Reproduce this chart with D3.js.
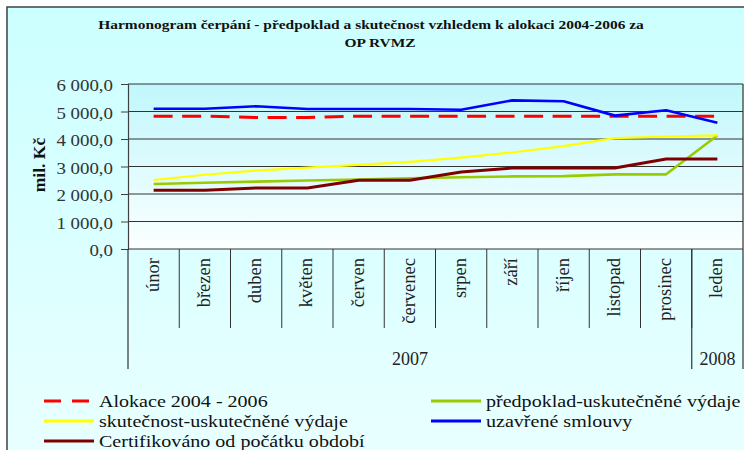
<!DOCTYPE html>
<html><head><meta charset="utf-8">
<script src="https://cdn.jsdelivr.net/npm/d3@7"></script>
<style>body{margin:0;background:#fff}svg{display:block}</style>
</head><body><svg id="c" width="744" height="450" font-family="Liberation Serif"></svg>
<script>
const months = ["únor","březen","duben","květen","červen","červenec","srpen","září","říjen","listopad","prosinec","leden"];
const years = [{label:"2007", from:0, to:10},{label:"2008", from:11, to:11}];
const yTicks = [0,1000,2000,3000,4000,5000,6000];
const alokace =      [4830,4830,4780,4780,4830,4830,4830,4830,4830,4830,4830,4830];
const predpoklad =   [2365,2410,2450,2490,2530,2570,2610,2640,2650,2715,2715,4130];
const skutecnost =   [2510,2700,2850,2960,3060,3170,3320,3510,3740,4030,4090,4130];
const smlouvy =      [5100,5100,5190,5090,5090,5090,5065,5405,5370,4850,5045,4590];
const certifikovano =[2135,2135,2220,2220,2500,2500,2800,2945,2945,2945,3270,3270];
const title = ["Harmonogram čerpání - předpoklad a skutečnost vzhledem k alokaci 2004-2006 za","OP RVMZ"];

const series = [
  {name:"Alokace 2004 - 2006", data:alokace, color:"#ff0000", width:3, dash:"19,9.5", ldash:"17,11"},
  {name:"předpoklad-uskutečněné výdaje", data:predpoklad, color:"#99cc00", width:2.6},
  {name:"skutečnost-uskutečněné výdaje", data:skutecnost, color:"#ffff00", width:2.2},
  {name:"uzavřené smlouvy", data:smlouvy, color:"#0000ff", width:2.6},
  {name:"Certifikováno od počátku období", data:certifikovano, color:"#800000", width:3}
];
const FF = "Liberation Serif";
const SX = 1.18;
const svg = d3.select("#c");
const defs = svg.append("defs");
const g1 = defs.append("linearGradient").attr("id","bg").attr("x1",0).attr("y1",0).attr("x2",0).attr("y2",1);
g1.append("stop").attr("offset","0%").attr("stop-color","#ccffff");
g1.append("stop").attr("offset","100%").attr("stop-color","#eaffff");
const g2 = defs.append("linearGradient").attr("id","pbg").attr("x1",0).attr("y1",0).attr("x2",0).attr("y2",1);
g2.append("stop").attr("offset","0%").attr("stop-color","#c0f7fc");
g2.append("stop").attr("offset","100%").attr("stop-color","#fcffff");

svg.append("rect").attr("x",7).attr("y",7).attr("width",760).attr("height",460)
  .attr("fill","url(#bg)").attr("stroke","#404040").attr("stroke-width",1.5);

const L=128, R=743, T=84, B=249;
const x = d3.scaleBand().domain(months).range([L,R]);
const y = d3.scaleLinear().domain([0,6000]).range([B,T]);
const cx = m => x(m)+x.bandwidth()/2;

svg.append("rect").attr("x",L).attr("y",T).attr("width",R-L).attr("height",B-T).attr("fill","url(#pbg)");

svg.append("g").selectAll("line").data(yTicks).join("line")
  .attr("x1",L).attr("x2",R).attr("y1",d=>y(d)).attr("y2",d=>y(d))
  .attr("stroke","#333").attr("stroke-width",1);

const loc = d3.formatLocale({decimal:",", thousands:"\u00a0", grouping:[3], currency:["",""]});
const fmt = loc.format(",.1f");
const ya = svg.append("g").attr("transform",`translate(${L},0)`)
  .call(d3.axisLeft(y).tickValues(yTicks).tickFormat(fmt).tickSize(7).tickPadding(8));
ya.attr("font-family",FF);
ya.select(".domain").attr("stroke","#404040").attr("stroke-width",1.2);
ya.selectAll(".tick line").attr("stroke","#404040");
ya.selectAll(".tick text").attr("x",0).attr("dy",6.5).attr("transform",`translate(-15,0) scale(${SX},1)`)
  .attr("font-family",FF).attr("font-size",16).attr("fill","#333");

svg.append("text").attr("transform","translate(45,165) rotate(-90)").attr("text-anchor","middle")
  .attr("font-size",17.5).attr("font-weight","bold").attr("fill","#111").text("mil. Kč");

const tPos = [{cx:371, y:29},{cx:380, y:47}];
svg.selectAll(".title").data(title).join("text").attr("class","title")
  .attr("transform",(d,i)=>`translate(${tPos[i].cx},${tPos[i].y}) scale(${SX},1)`).attr("text-anchor","middle")
  .attr("font-size",13.1).attr("font-weight","bold").attr("fill","#111").text(d=>d);

const axG = svg.append("g");
axG.selectAll(".msep").data(months.slice(1)).join("line").attr("class","msep")
  .attr("x1",d=>x(d)).attr("x2",d=>x(d)).attr("y1",B).attr("y2",328)
  .attr("stroke","#333").attr("stroke-width",1);
const ysep = [L, x(months[11]), R];
axG.selectAll(".ysep").data(ysep).join("line").attr("class","ysep")
  .attr("x1",d=>d).attr("x2",d=>d).attr("y1",d=>d===R?T:B).attr("y2",369)
  .attr("stroke","#333").attr("stroke-width",1.2);
axG.selectAll(".mlab").data(months).join("text").attr("class","mlab")
  .attr("transform",d=>`translate(${cx(d)+5},258) rotate(-90)`).attr("text-anchor","end")
  .attr("font-size",18.5).attr("fill","#222").text(d=>d);
axG.selectAll(".ylab").data(years).join("text").attr("class","ylab")
  .attr("x",d=>(x(months[d.from])+x(months[d.to])+x.bandwidth())/2).attr("y",365)
  .attr("text-anchor","middle").attr("font-size",18).attr("fill","#222").text(d=>d.label);

const line = d3.line().x((d,i)=>cx(months[i])).y(d=>y(d));
svg.append("g").selectAll("path").data(series).join("path")
  .attr("d",d=>line(d.data)).attr("fill","none").attr("stroke",d=>d.color)
  .attr("stroke-width",d=>d.width).attr("stroke-dasharray",d=>d.dash||null).attr("stroke-linejoin","round");

const legPos = [[44,401],[431,401],[44,421],[431,421],[44,441]];
const lg = svg.append("g").selectAll("g").data(series).join("g")
  .attr("transform",(d,i)=>`translate(${legPos[i][0]},${legPos[i][1]})`);
lg.append("line").attr("x1",0).attr("x2",50).attr("y1",0).attr("y2",0)
  .attr("stroke",d=>d.color).attr("stroke-width",3).attr("stroke-dasharray",d=>d.ldash||null);
lg.append("text").attr("transform",`translate(55,6) scale(${SX},1)`).attr("font-size",17).attr("fill","#111").text(d=>d.name);
</script></body></html>
